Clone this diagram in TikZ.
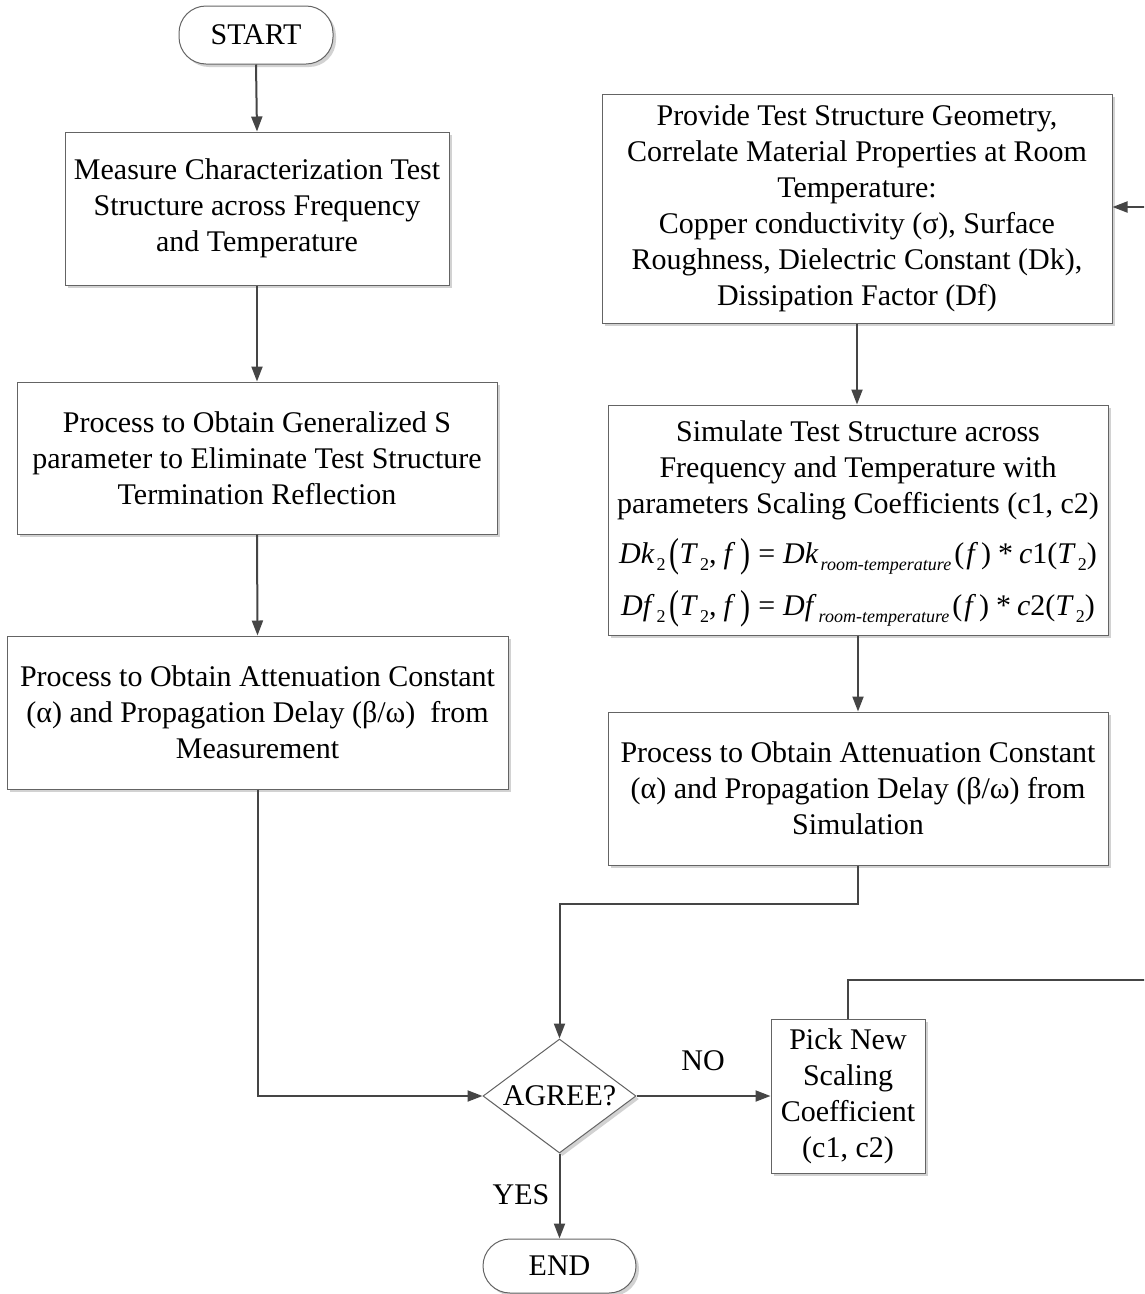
\documentclass[tikz,border=0pt]{standalone}
\usepackage{fontspec}
\setmainfont{Liberation Serif}
\usepackage{graphicx}
\usetikzlibrary{shapes.geometric,shadows,arrows.meta}
\definecolor{linec}{HTML}{454545}
\definecolor{boxc}{HTML}{646464}
\definecolor{shadc}{HTML}{D2D2D2}
\newcommand{\eqsub}[1]{\hspace{2pt}\raisebox{-7pt}{\fontsize{18}{18}\selectfont #1}}
\newcommand{\bigparen}[1]{\raisebox{-3pt}{\scalebox{1}[1.35]{#1}}}
\tikzset{
  basefont/.style={font=\fontsize{30}{36}\selectfont},
  procbox/.style={basefont, draw=boxc, line width=1pt, fill=white, align=center,
    inner sep=0pt, drop shadow={shadow xshift=3pt, shadow yshift=-3pt, fill=shadc, opacity=1}},
  termbox/.style={procbox, rounded corners=27pt},
  decision/.style={procbox, diamond, aspect=1.34},
  conn/.style={draw=linec, line width=2pt, -{Triangle[length=15pt,width=11pt]}},
  lbl/.style={basefont, inner sep=0pt}
}
\begin{document}
\begin{tikzpicture}[x=1pt,y=-1pt]
\path[use as bounding box] (0,0) rectangle (1144,1294);
\clip (0,0) rectangle (1144,1294);

\node[termbox, minimum width=154pt, minimum height=58pt] (start) at (256,35) {START};
\node[procbox, minimum width=384pt, minimum height=153pt] (m1) at (257,208.5)
  {Measure Characterization Test\\ Structure across Frequency\\ and Temperature};
\node[procbox, minimum width=480pt, minimum height=152pt] (m2) at (257,458)
  {Process to Obtain Generalized S\\ parameter to Eliminate Test Structure\\ Termination Reflection};
\node[procbox, minimum width=501pt, minimum height=153pt] (m3) at (257.5,712.5)
  {Process to Obtain Attenuation Constant\\ (α) and Propagation Delay (β/ω)~ from\\ Measurement};

\node[procbox, minimum width=510pt, minimum height=229pt] (pa) at (857,208.5)
  {Provide Test Structure Geometry,\\ Correlate Material Properties at Room\\ Temperature:\\ Copper conductivity (σ), Surface\\ Roughness, Dielectric Constant (Dk),\\ Dissipation Factor (Df)};
\node[procbox, minimum width=500pt, minimum height=230pt] (pb) at (858,520)
  {\rule{0pt}{28pt}Simulate Test Structure across\\ Frequency and Temperature with\\ parameters Scaling Coefficients (c1, c2)\\[14pt]
   \textit{Dk}\eqsub{2}\hspace{4pt}\bigparen{(}\textit{T}\eqsub{2},\hspace{7pt}\textit{f}\hspace{5pt}\bigparen{)}\hspace{8pt}=\hspace{8pt}\textit{Dk}\eqsub{\textit{room-temperature}}\hspace{3pt}(\hspace{2pt}\textit{f}\hspace{3pt})\hspace{7pt}*\hspace{6pt}\textit{c}1(\textit{T}\eqsub{2})\\[14pt]
   \textit{Df}\eqsub{2}\hspace{4pt}\bigparen{(}\textit{T}\eqsub{2},\hspace{7pt}\textit{f}\hspace{5pt}\bigparen{)}\hspace{8pt}=\hspace{8pt}\textit{Df}\eqsub{\textit{room-temperature}}\hspace{3pt}(\hspace{2pt}\textit{f}\hspace{3pt})\hspace{7pt}*\hspace{6pt}\textit{c}2(\textit{T}\eqsub{2})};
\node[procbox, minimum width=500pt, minimum height=153pt] (pc) at (858,788.5)
  {Process to Obtain Attenuation Constant\\ (α) and Propagation Delay (β/ω) from\\ Simulation};

\node[decision, minimum width=153pt, minimum height=114pt] (agree) at (559.5,1096) {AGREE?};
\node[procbox, minimum width=154pt, minimum height=154pt] (pick) at (848,1096)
  {Pick New\\ Scaling\\ Coefficient\\ (c1, c2)};
\node[termbox, minimum width=153pt, minimum height=54pt] (end) at (559.5,1266) {END};

\node[lbl] (no) at (703,1061) {NO};
\node[lbl] (yes) at (521,1195) {YES};

\coordinate (loopA) at (848,980);
\coordinate (loopB) at (1170,980);
\coordinate (loopC) at (1170,207);
\coordinate (merge1) at (858,904);
\coordinate (merge2) at (559.5,904);

\draw[conn] (start.south) -- (m1.north);
\draw[conn] (m1.south) -- (m2.north);
\draw[conn] (m2.south) -- (m3.north);
\draw[conn] (m3.south) |- (agree.west);
\draw[conn] (pa.south) -- (pa.south |- pb.north);
\draw[conn] (pb.south) -- (pc.north);
\draw[conn] (pc.south) -- (merge1) -- (merge2) -- (agree.north);
\draw[conn] (agree.east) -- (pick.west);
\draw[conn] (agree.south) -- (end.north);
\draw[conn] (pick.north) -- (loopA) -- (loopB) -- (loopC) -- (pa.east |- loopC);
\end{tikzpicture}
\end{document}
